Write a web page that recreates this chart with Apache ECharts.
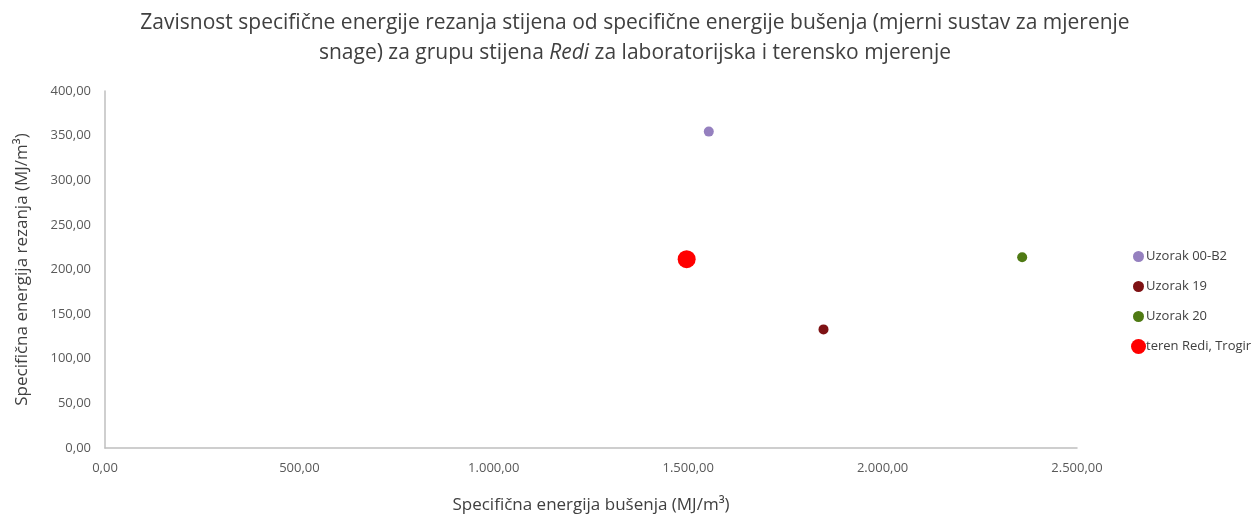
<!DOCTYPE html>
<html>
<head>
<meta charset="utf-8">
<script src="https://cdn.jsdelivr.net/npm/echarts@6/dist/echarts.min.js"></script>
<style>
  html, body { margin: 0; padding: 0; background: #fff; }
  #chart { width: 1260px; height: 514px; }
</style>
</head>
<body>
<div id="chart"></div>
<script>
const seriesNames = ['Uzorak 00-B2', 'Uzorak 19', 'Uzorak 20', 'teren Redi, Trogir']
const seriesColors = ['#9580BF', '#7E1214', '#4F7A14', '#FF0000']
const xValues = [1553, 1848, 2359, 1496]
const yValues = [354.5, 132.9, 213.8, 211.6]
const symbolSizes = [10, 10, 10, 18]

const font = '"Open Sans", sans-serif'

function fmt(v) {
  const parts = v.toFixed(2).split('.')
  parts[0] = parts[0].replace(/\B(?=(\d{3})+(?!\d))/g, '.')
  return parts[0] + ',' + parts[1]
}

const chart = echarts.init(document.getElementById('chart'))
chart.setOption({
  animation: false,
  title: {
    text: '{a|Zavisnost specifične energije rezanja stijena od specifične energije bušenja (mjerni sustav za mjerenje}\n{a|snage) za grupu stijena }{i|Redi}{a| za laboratorijska i terensko mjerenje}',
    left: 630,
    textAlign: 'center',
    top: 3,
    textStyle: {
      rich: {
        a: { fontFamily: font, fontSize: 21, fontWeight: 'normal', color: '#404040', lineHeight: 30 },
        i: { fontFamily: font, fontSize: 21, fontWeight: 'normal', color: '#404040', lineHeight: 30, fontStyle: 'italic' }
      }
    }
  },
  legend: [
    {
      orient: 'vertical',
      left: 1128,
      top: 245,
      itemGap: 17,
      itemWidth: 11,
      itemHeight: 11,
      icon: 'circle',
      data: seriesNames.slice(0, 3),
      textStyle: { fontFamily: font, fontSize: 13, color: '#404040', padding: [0, 0, 0, -3] }
    },
    {
      orient: 'vertical',
      left: 1126,
      top: 334,
      itemWidth: 15,
      itemHeight: 15,
      icon: 'circle',
      data: seriesNames.slice(3),
      textStyle: { fontFamily: font, fontSize: 13, color: '#404040', padding: [0, 0, 0, -5] }
    }
  ],
  grid: { left: 105, right: 183, top: 91, bottom: 66, outerBoundsMode: 'none' },
  xAxis: {
    type: 'value',
    min: 0,
    max: 2500,
    interval: 500,
    name: 'Specifična energija bušenja (MJ/m³)',
    nameLocation: 'middle',
    nameGap: 49,
    nameTextStyle: { fontFamily: font, fontSize: 17, color: '#404040' },
    axisLine: { show: true, lineStyle: { color: '#BFBFBF', width: 1.5 } },
    axisTick: { show: false },
    splitLine: { show: false },
    axisLabel: { formatter: fmt, fontFamily: font, fontSize: 13, color: '#595959', margin: 14 }
  },
  yAxis: {
    type: 'value',
    min: 0,
    max: 400,
    interval: 50,
    name: 'Specifična energija rezanja (MJ/m³)',
    nameLocation: 'middle',
    nameGap: 74,
    nameTextStyle: { fontFamily: font, fontSize: 17, color: '#404040' },
    axisLine: { show: true, lineStyle: { color: '#BFBFBF', width: 1.5 } },
    axisTick: { show: false },
    splitLine: { show: false },
    axisLabel: { formatter: fmt, fontFamily: font, fontSize: 13, color: '#595959', margin: 14 }
  },
  series: seriesNames.map((name, i) => ({
    name: name,
    type: 'scatter',
    symbolSize: symbolSizes[i],
    itemStyle: { color: seriesColors[i], opacity: 1 },
    data: [[xValues[i], yValues[i]]]
  }))
})
</script>
</body>
</html>
